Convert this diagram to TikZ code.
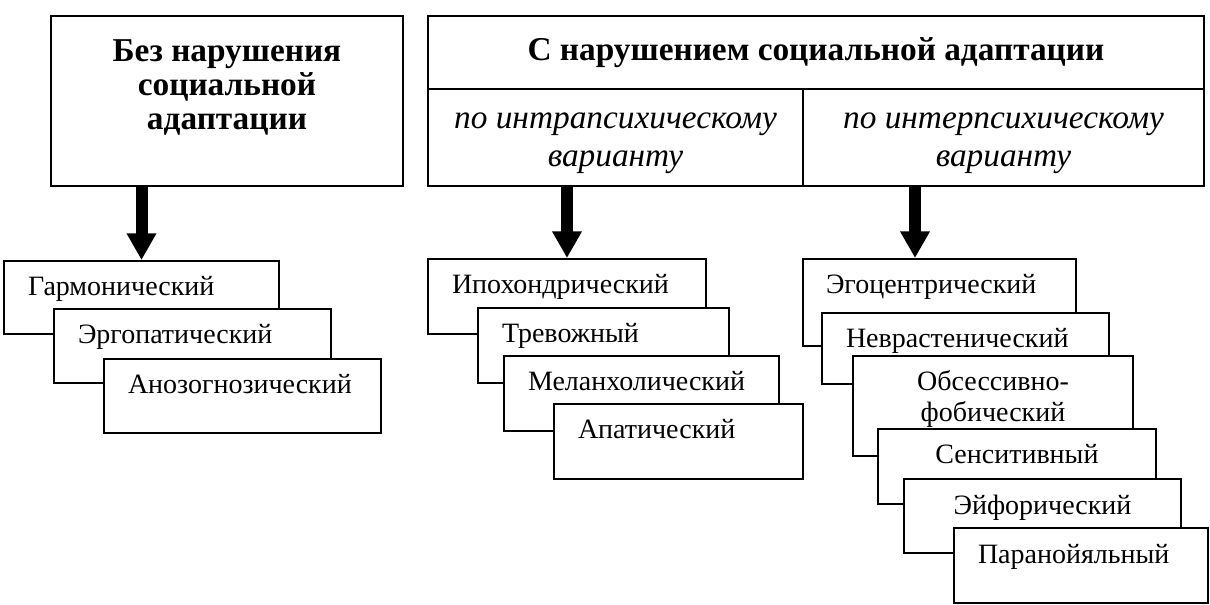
\documentclass[tikz,border=0pt]{standalone}
\usepackage{fontspec}
\setmainfont{Liberation Serif}
\usetikzlibrary{arrows.meta}
\begin{document}
\begin{tikzpicture}[x=0.75pt,y=-0.75pt,
  bx/.style={draw, line width=1.5pt, fill=white, inner sep=0pt, anchor=north west},
  hd/.style={font=\bfseries\fontsize{25}{25.5}\selectfont, align=center},
  it/.style={font=\itshape\fontsize{25}{28.5}\selectfont, align=center},
  lb/.style={font=\fontsize{21}{23.25}\selectfont},
  arr/.style={line width=9pt, -{Triangle[width=21pt,length=20pt]}}
]
\useasboundingbox (0,0) rectangle (1210,605);
\fill[white] (0,0) rectangle (1210,605);
% top boxes
\node[bx, hd, minimum width=264pt, text height=85.5pt, text depth=42pt] (A) at (50,15)
  {Без нарушения\\социальной\\адаптации};
\node[bx, hd, minimum width=582pt, minimum height=54.75pt] (T) at (427,15)
  {С нарушением социальной адаптации};
\node[bx, it, minimum width=281.25pt, text height=58.5pt, text depth=14.25pt] (B1) at (427,88)
  {по интрапсихическому\\варианту};
\node[bx, it, minimum width=300.75pt, text height=58.5pt, text depth=14.25pt] (B2) at (802,88)
  {по интерпсихическому\\варианту};
% left group
\node[bx, lb, text width=170.25pt, inner xsep=18pt, text height=26.25pt, text depth=28.5pt] (G1) at (3,260) {Гармонический};
\node[bx, lb, text width=171.75pt, inner xsep=18pt, text height=26.25pt, text depth=29.25pt] (G2) at (53,308) {Эргопатический};
\node[bx, lb, text width=171.75pt, inner xsep=18pt, text height=26.25pt, text depth=29.25pt] (G3) at (103,358) {Анозогнозический};
% middle group
\node[bx, lb, text width=172.5pt, inner xsep=18pt, text height=26.25pt, text depth=30pt] (I1) at (427,258) {Ипохондрический};
\node[bx, lb, text width=152.25pt, inner xsep=18pt, text height=26.25pt, text depth=30pt] (I2) at (477,307) {Тревожный};
\node[bx, lb, text width=170.25pt, inner xsep=18pt, text height=26.25pt, text depth=30pt] (I3) at (503,355) {Меланхолический};
\node[bx, lb, text width=150.75pt, inner xsep=18pt, text height=26.25pt, text depth=30pt] (I4) at (553,403) {Апатический};
% right group
\node[bx, lb, text width=170.25pt, inner xsep=17.25pt, text height=26.25pt, text depth=39pt] (E1) at (802,258) {Эгоцентрический};
\node[bx, lb, text width=179.25pt, inner xsep=18pt, text height=26.25pt, text depth=27pt] (E2) at (821,312) {Неврастенический};
\node[bx, lb, align=center, minimum width=210pt, text height=49.5pt, text depth=25.5pt] (E3) at (852,355) {Обсессивно-\\фобический};
\node[bx, lb, minimum width=208.5pt, text height=26.25pt, text depth=30pt] (E4) at (877,428) {Сенситивный};
\node[bx, lb, minimum width=207.75pt, text height=26.25pt, text depth=29.25pt] (E5) at (903,478) {Эйфорический};
\node[bx, lb, text width=154.5pt, inner xsep=18pt, text height=26.25pt, text depth=30pt] (E6) at (953,527) {Паранойяльный};
% arrows
\coordinate (c3) at (915,0);
\draw[arr] (G1.north |- A.south) -- (G1.north);
\draw[arr] (I1.north |- B1.south) -- (I1.north);
\draw[arr] (c3 |- B2.south) -- (c3 |- E1.north);
\end{tikzpicture}
\end{document}
